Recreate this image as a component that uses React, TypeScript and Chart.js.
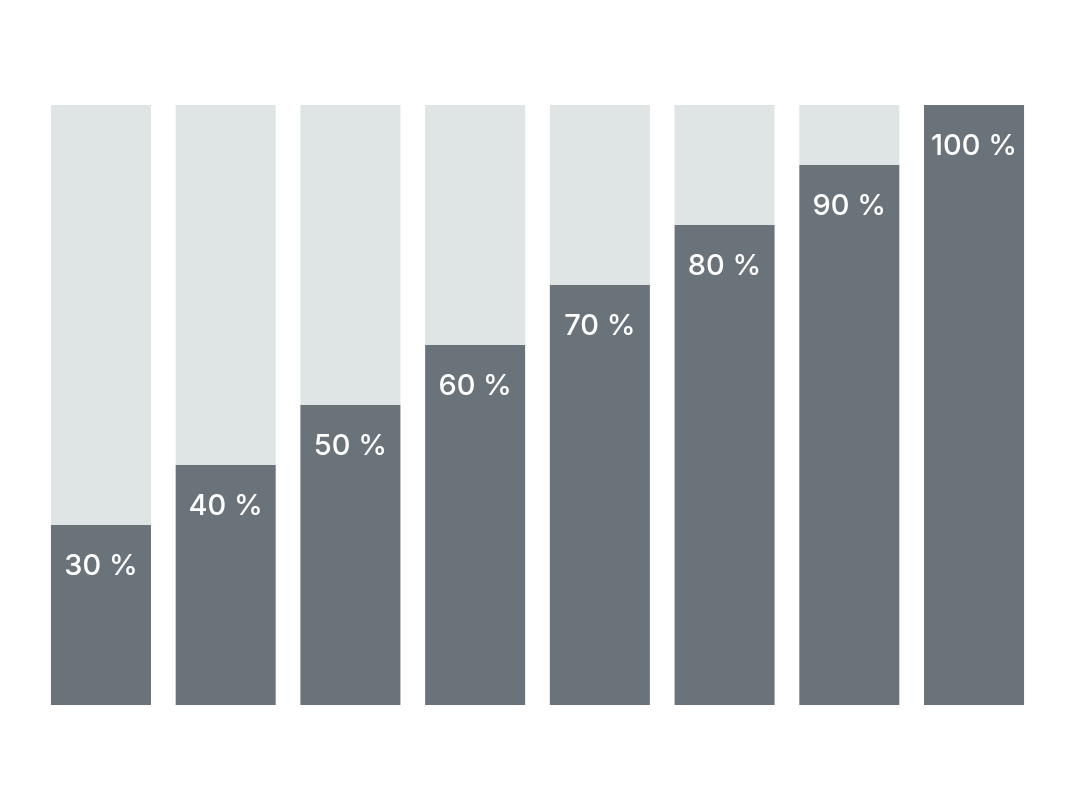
import React, { useEffect, useRef } from "react";
import { Chart, registerables } from "chart.js";

Chart.register(...registerables);

const categories = ["A", "B", "C", "D", "E", "F", "G", "H"];
const values = [30, 40, 50, 60, 70, 80, 90, 100];
const remainder = values.map((v) => 100 - v);
const labels = values.map((v) => `${v} %`);

const DARK = "#6a737a";
const LIGHT = "#dfe4e4";

const labelPlugin = {
  id: "barLabels",
  afterDatasetsDraw(chart: any) {
    const meta = chart.getDatasetMeta(0);
    const ctx = chart.ctx;
    ctx.save();
    ctx.fillStyle = "#ffffff";
    ctx.font = "500 29px Inter, sans-serif";
    ctx.textAlign = "center";
    ctx.textBaseline = "middle";
    meta.data.forEach((bar: any, i: number) => {
      ctx.fillText(labels[i], bar.x, bar.y + 41);
    });
    ctx.restore();
  },
};

export default function App() {
  const ref = useRef<HTMLCanvasElement>(null);
  useEffect(() => {
    if (!ref.current) return;
    const chart = new Chart(ref.current, {
      type: "bar",
      data: {
        labels: categories,
        datasets: [
          {
            data: values,
            backgroundColor: DARK,
            borderWidth: 0,
            categoryPercentage: 0.802,
            barPercentage: 1,
          },
          {
            data: remainder,
            backgroundColor: LIGHT,
            borderWidth: 0,
            categoryPercentage: 0.802,
            barPercentage: 1,
          },
        ],
      },
      options: {
        animation: false,
        responsive: false,
        maintainAspectRatio: false,
        layout: { padding: { left: 38.6, right: 43.6, top: 105, bottom: 90 } },
        plugins: { legend: { display: false }, tooltip: { enabled: false } },
        scales: {
          x: { stacked: true, display: false },
          y: { stacked: true, display: false, min: 0, max: 100 },
        },
      },
      plugins: [labelPlugin],
    });
    return () => chart.destroy();
  }, []);
  return (
    <div style={{ position: "fixed", left: 0, top: 0, width: 1080, height: 795, background: "#fff" }}>
      <canvas ref={ref} width={1080} height={795} />
    </div>
  );
}
